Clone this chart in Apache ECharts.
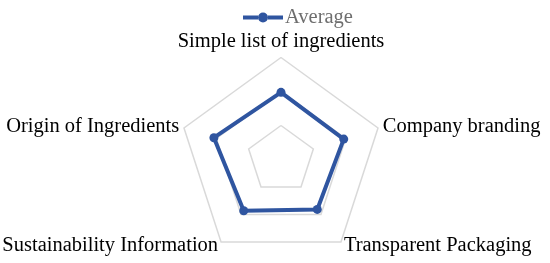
<!DOCTYPE html>
<html>
<head>
<meta charset="utf-8">
<script src="https://cdn.jsdelivr.net/npm/echarts@6/dist/echarts.min.js"></script>
<style>
html, body { margin: 0; padding: 0; background: #fff; }
#chart { width: 550px; height: 263px; }
</style>
</head>
<body>
<div id="chart"></div>
<script>
// indicators, counter-clockwise from the top (echarts order)
var indicatorNames = ['Simple list of ingredients', 'Origin of Ingredients', 'Sustainability Information', 'Transparent Packaging', 'Company branding'];
var averageValues = [3.95, 4.15, 3.73, 3.63, 3.88];
var axisMax = 6;
var seriesName = 'Average';

var chart = echarts.init(document.getElementById('chart'));
var blue = '#2f55a0';
// legend icon: line with a round marker in the middle
var legendIcon = 'path://M0,3L15,3L15,7L0,7Z M25,3L40,3L40,7L25,7Z M20,0A5,5 0 1,1 20,10A5,5 0 1,1 20,0Z';

var option = {
    backgroundColor: '#fff',
    legend: {
        data: [{ name: seriesName, icon: legendIcon }],
        top: 2,
        left: 238,
        itemWidth: 42,
        itemHeight: 10,
        itemGap: 2,
        textStyle: {
            fontFamily: 'Liberation Serif',
            fontSize: 20.5,
            color: '#6e6e6e',
            padding: [0, 0, 0, -4]
        }
    },
    radar: {
        center: [281, 159.5],
        radius: 102,
        startAngle: 90,
        shape: 'polygon',
        splitNumber: 3,
        nameGap: 5,
        axisName: {
            color: '#000',
            fontFamily: 'Liberation Serif',
            fontSize: 20.5
        },
        indicator: indicatorNames.map(function (n) {
            return { name: n, min: 0, max: axisMax };
        }),
        axisLine: { show: false },
        splitArea: { show: false },
        splitLine: {
            lineStyle: { color: '#d9d9d9', width: 1.5 }
        }
    },
    series: [{
        name: seriesName,
        type: 'radar',
        symbol: 'circle',
        symbolSize: 9,
        lineStyle: { color: blue, width: 4 },
        itemStyle: { color: blue },
        data: [{ value: averageValues, name: seriesName }]
    }]
};
chart.setOption(option);
</script>
</body>
</html>
